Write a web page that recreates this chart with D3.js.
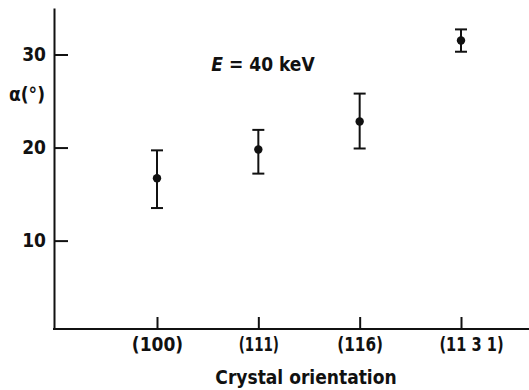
<!DOCTYPE html>
<html>
<head>
<meta charset="utf-8">
<script src="https://cdn.jsdelivr.net/npm/d3@7"></script>
<style>
  body { margin: 0; background: #fff; }
  svg text { font-family: "DejaVu Sans Condensed", "DejaVu Sans", sans-serif; font-weight: bold; fill: #111; }
</style>
</head>
<body>
<div id="chart"></div>
<script>
// crystal orientations and measured angle alpha (deg) with error bar ends
var orientations = ["(100)", "(111)", "(116)", "(11 3 1)"];
var alpha = [16.7, 19.8, 22.8, 31.5];
var alphaHigh = [19.7, 21.9, 25.8, 32.7];
var alphaLow = [13.5, 17.2, 19.9, 30.3];
var yTicks = [10, 20, 30];

var W = 529, H = 390;
var mLeft = 54, mRight = 529, mTop = 8, mBottom = 329;

var svg = d3.select("#chart").append("svg").attr("width", W).attr("height", H);

var y = d3.scaleLinear().domain([0.5, 35]).range([mBottom, mTop]);
var x = d3.scalePoint().domain(orientations).range([157, 461]);

// y axis, ticks pointing inward
var gy = svg.append("g").attr("transform", "translate(" + mLeft + ",0)")
    .call(d3.axisLeft(y).tickValues(yTicks).tickSizeInner(-14).tickSizeOuter(0).tickPadding(8));
gy.select(".domain").attr("stroke", "#111").attr("stroke-width", 2);
gy.selectAll(".tick line").attr("stroke", "#111").attr("stroke-width", 2);
gy.selectAll(".tick text").attr("font-size", 19).attr("fill", "#111");

// x axis
svg.append("line")
    .attr("x1", mLeft - 1).attr("x2", mRight)
    .attr("y1", mBottom).attr("y2", mBottom)
    .attr("stroke", "#111").attr("stroke-width", 2);
var gx = svg.append("g").attr("transform", "translate(0," + mBottom + ")")
    .call(d3.axisBottom(x).tickSizeInner(-12).tickSizeOuter(0).tickPadding(9));
gx.select(".domain").remove();
gx.selectAll(".tick line").attr("stroke", "#111").attr("stroke-width", 2);
gx.selectAll(".tick text").attr("font-size", 19).attr("fill", "#111")
    .each(function (d, i) {
        // the original typeface has narrow "1" digits
        var ones = d.split("1").length - 1;
        var w = this.getComputedTextLength() - 5.5 * (ones - 1);
        d3.select(this).attr("textLength", w).attr("lengthAdjust", "spacingAndGlyphs");
        if (i === orientations.length - 1) d3.select(this).attr("dx", 10);
    });

// error bars
var pts = svg.append("g").selectAll("g").data(orientations).enter().append("g");
pts.append("line")
    .attr("x1", function (d) { return x(d); })
    .attr("x2", function (d) { return x(d); })
    .attr("y1", function (d, i) { return y(alphaHigh[i]); })
    .attr("y2", function (d, i) { return y(alphaLow[i]); })
    .attr("stroke", "#111").attr("stroke-width", 2);
pts.append("line")
    .attr("x1", function (d) { return x(d) - 6; })
    .attr("x2", function (d) { return x(d) + 6; })
    .attr("y1", function (d, i) { return y(alphaHigh[i]); })
    .attr("y2", function (d, i) { return y(alphaHigh[i]); })
    .attr("stroke", "#111").attr("stroke-width", 2);
pts.append("line")
    .attr("x1", function (d) { return x(d) - 6; })
    .attr("x2", function (d) { return x(d) + 6; })
    .attr("y1", function (d, i) { return y(alphaLow[i]); })
    .attr("y2", function (d, i) { return y(alphaLow[i]); })
    .attr("stroke", "#111").attr("stroke-width", 2);
pts.append("circle")
    .attr("cx", function (d) { return x(d); })
    .attr("cy", function (d, i) { return y(alpha[i]); })
    .attr("r", 4.2)
    .attr("fill", "#111");

// labels
svg.append("text").attr("x", 27).attr("y", 101)
    .attr("text-anchor", "middle").attr("font-size", 19)
    .text("\u03b1(\u00b0)");

var eq = svg.append("text").attr("x", 263).attr("y", 71)
    .attr("text-anchor", "middle").attr("font-size", 19);
eq.append("tspan").attr("font-style", "italic").text("E");
eq.append("tspan").text(" = 40 keV");

svg.append("text").attr("x", 306).attr("y", 384)
    .attr("text-anchor", "middle").attr("font-size", 19)
    .text("Crystal orientation");
</script>
</body>
</html>
